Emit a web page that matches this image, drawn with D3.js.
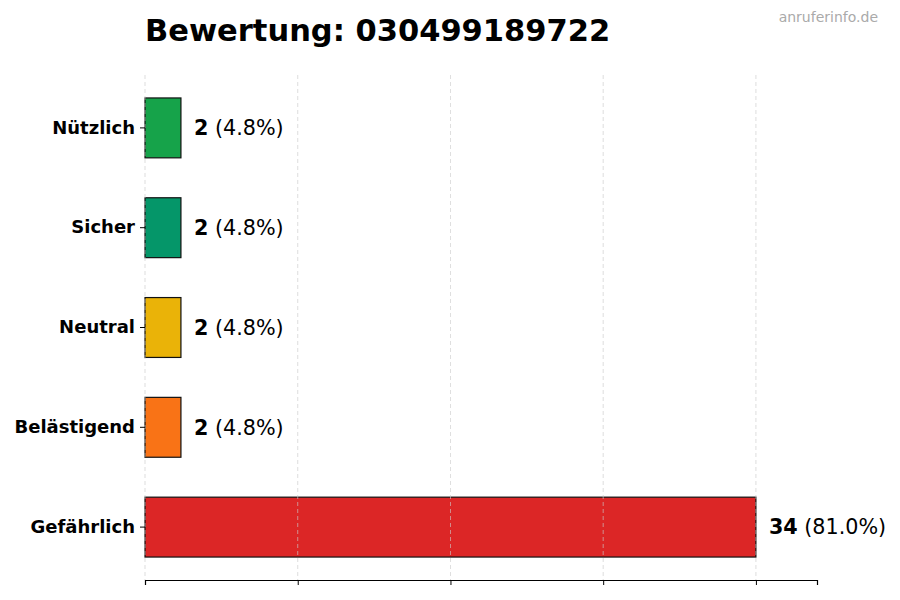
<!DOCTYPE html>
<html>
<head>
<meta charset="utf-8">
<script src="https://cdn.jsdelivr.net/npm/d3@7"></script>
<style>
  body { margin: 0; background: #fff; }
  text { font-family: "DejaVu Sans", sans-serif; }
</style>
</head>
<body>
<div id="chart"></div>
<script>
// chart data
const categories = ["Nützlich", "Sicher", "Neutral", "Belästigend", "Gefährlich"]
const counts = [2, 2, 2, 2, 34]
const percents = ["4.8%", "4.8%", "4.8%", "4.8%", "81.0%"]
const barColors = ["#16a34a", "#059669", "#eab308", "#f97316", "#dc2626"]
const title = "Bewertung: 030499189722"

const margin = {top: 75, right: 83, bottom: 20, left: 145},
  width = 900 - margin.left - margin.right,
  height = 600 - margin.top - margin.bottom;

const root = d3.select("#chart")
  .append("svg")
    .attr("width", 900)
    .attr("height", 600)

const svg = root.append("g")
  .attr("transform", `translate(${margin.left},${margin.top})`);

const maxVal = d3.max(counts)

// x scale with 10% headroom
const x = d3.scaleLinear()
  .domain([0, maxVal * 1.1])
  .range([0, width])

const y = d3.scaleBand()
  .domain(categories)
  .range([0, height])
  .paddingInner(0.4)
  .paddingOuter(0.23)

// bars
svg.selectAll(".bar")
  .data(categories)
  .enter()
  .append("rect")
    .attr("class", "bar")
    .attr("x", x(0))
    .attr("y", d => y(d))
    .attr("width", (d, i) => x(counts[i]) - x(0))
    .attr("height", y.bandwidth())
    .style("fill", (d, i) => barColors[i])
    .style("stroke", "#111")
    .style("stroke-width", 1.2)

// grid lines, on top of bars like the original
const gridTicks = [0, 0.25, 0.5, 0.75, 1].map(f => f * maxVal)
svg.append("g")
  .selectAll("line")
  .data(gridTicks)
  .enter()
  .append("line")
    .attr("x1", d => x(d))
    .attr("x2", d => x(d))
    .attr("y1", 0)
    .attr("y2", height)
    .style("stroke", "#ccc")
    .style("stroke-width", 0.8)
    .style("stroke-dasharray", "4,3")
    .style("opacity", 0.8)

// bottom axis, no labels
svg.append("g")
  .attr("transform", `translate(0, ${height})`)
  .call(d3.axisBottom(x).tickValues(gridTicks).tickFormat("").tickSizeOuter(0).tickSize(5))
  .call(g => g.select(".domain").style("stroke", "#000").style("stroke-width", 1.2))
  .call(g => g.selectAll(".tick line").style("stroke", "#000"))

// left axis: labels only with small ticks
svg.append("g")
  .call(d3.axisLeft(y).tickSize(5).tickPadding(5))
  .call(g => g.select(".domain").remove())
  .call(g => g.selectAll(".tick line").style("stroke", "#000"))
  .call(g => g.selectAll(".tick text")
    .style("font-size", "18px")
    .style("font-weight", "bold")
    .style("fill", "#000"))

// value labels
const labels = svg.selectAll(".val")
  .data(categories)
  .enter()
  .append("text")
    .attr("class", "val")
    .attr("x", (d, i) => x(counts[i]) + 13)
    .attr("y", d => y(d) + y.bandwidth() / 2)
    .attr("dy", "0.35em")
    .style("font-size", "20.7px")
    .style("fill", "#000")
labels.append("tspan")
  .style("font-weight", "bold")
  .text((d, i) => counts[i])
labels.append("tspan")
  .text((d, i) => " (" + percents[i] + ")")

// title
root.append("text")
  .attr("x", margin.left)
  .attr("y", 41)
  .text(title)
  .style("font-size", "30.5px")
  .style("font-weight", "bold")
  .style("fill", "#000")

// watermark
root.append("text")
  .attr("x", 878)
  .attr("y", 22)
  .attr("text-anchor", "end")
  .text("anruferinfo.de")
  .style("font-size", "14px")
  .style("fill", "#aaa")
</script>
</body>
</html>
